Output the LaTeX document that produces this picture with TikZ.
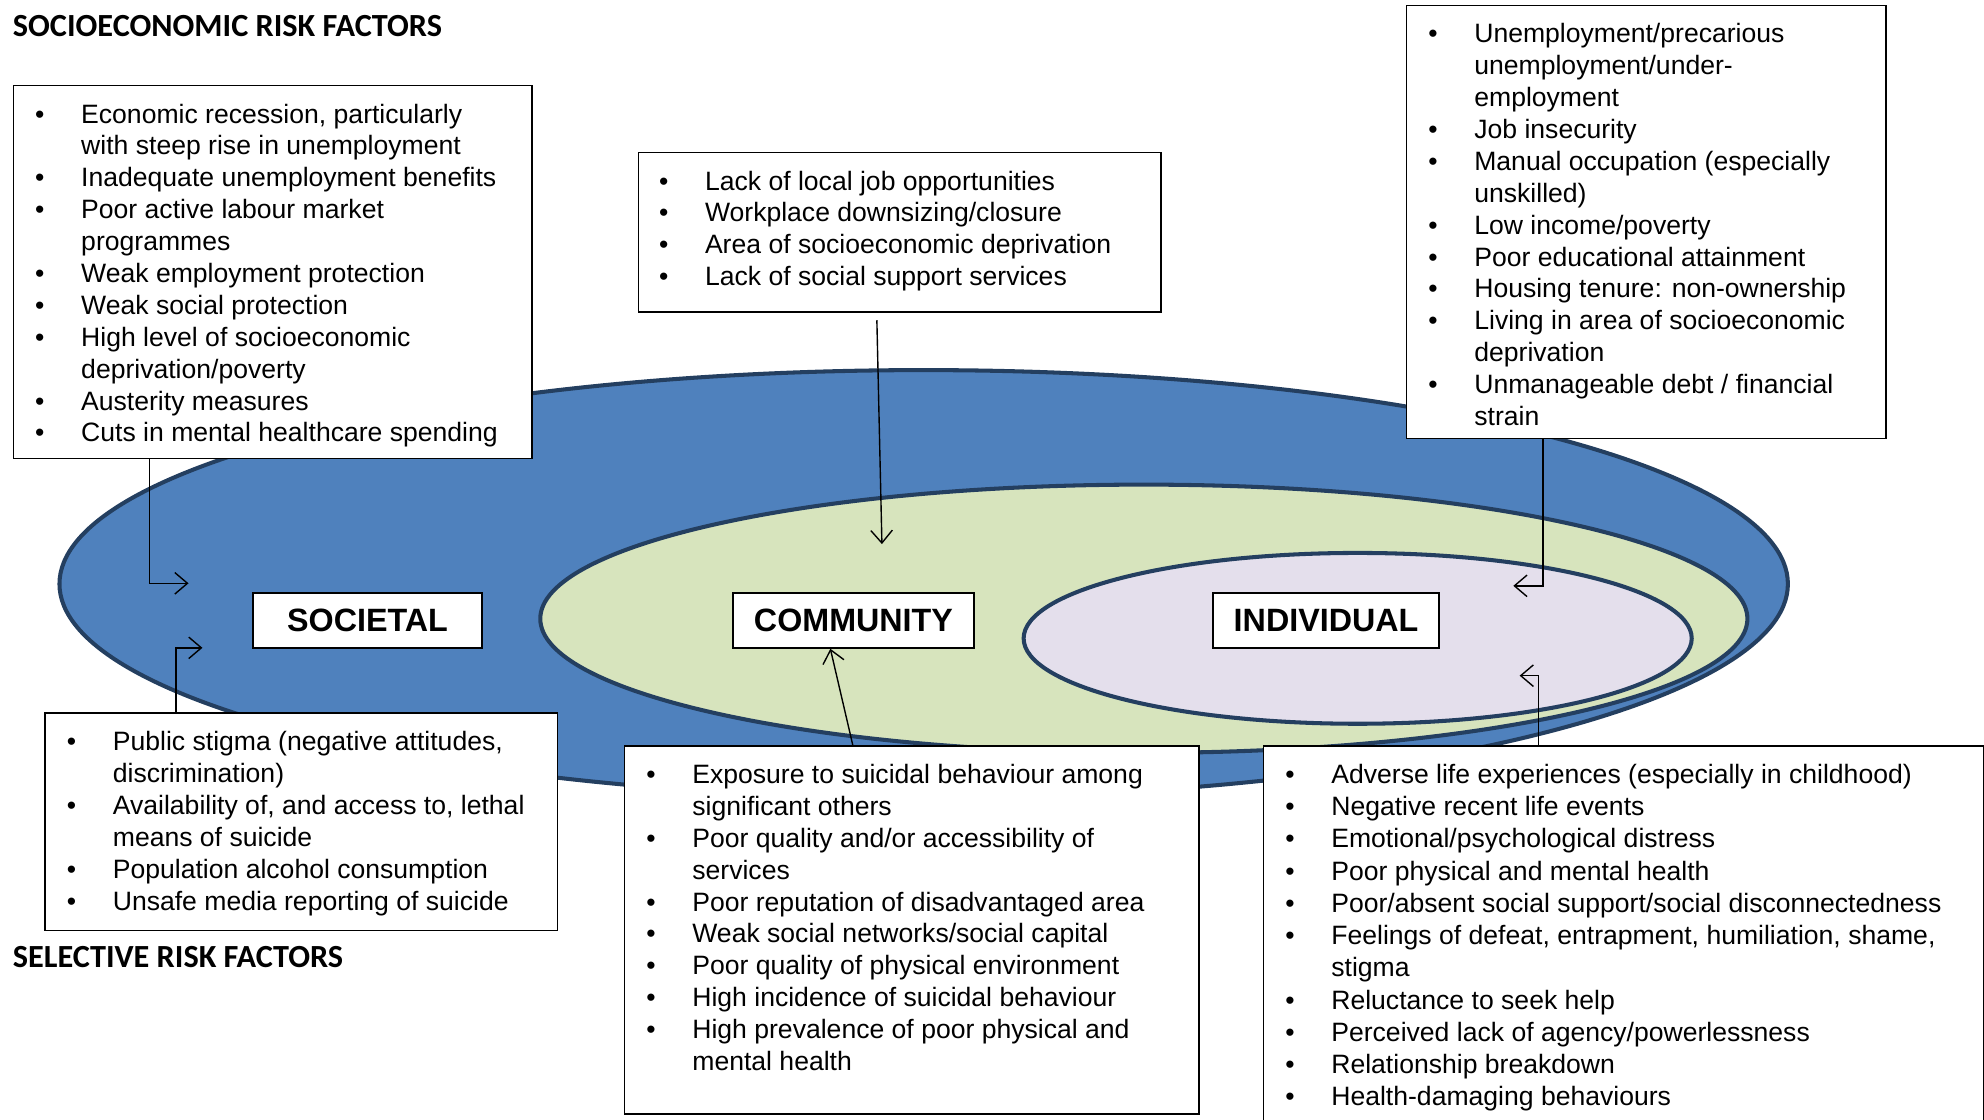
\documentclass[tikz,border=0pt]{standalone}
\usepackage{fontspec}
\setmainfont{Liberation Sans}
\newfontfamily\headfont{Carlito}
\usetikzlibrary{arrows.meta,calc}

\definecolor{outerblue}{HTML}{4F81BD}
\definecolor{ringline}{HTML}{243F60}
\definecolor{midgreen}{HTML}{D7E4BD}
\definecolor{innerlav}{HTML}{E4DFEC}

\newcommand\bul{\llap{•\hspace{29pt}}}

\tikzset{
  ring/.style={draw=ringline, line width=3.2pt},
  box/.style={draw=black, fill=white, line width=1.1pt, inner sep=0pt, anchor=north west},
  lbl/.style={draw=black, fill=white, line width=1.5pt, inner sep=0pt, minimum height=43pt,
    font=\fontsize{25.5}{29}\selectfont\bfseries},
  lst/.style={align=left, inner sep=0pt, anchor=north west, font=\fontsize{21}{25.2}\selectfont},
  head/.style={anchor=west, inner sep=0pt, font=\headfont\bfseries\fontsize{25.5}{29}\selectfont},
  arr/.style={line width=1.1pt, -{Straight Barb[length=10pt,width=17pt,line width=1.1pt]}}
}

\begin{document}
\begin{tikzpicture}[x=1pt,y=-1pt]
\useasboundingbox (0,0) rectangle (1568,885);

% rings
\draw[ring, fill=outerblue] (730,461.5) ellipse [x radius=683pt, y radius=169pt];
\draw[ring, fill=midgreen] (904,489) ellipse [x radius=477pt, y radius=106pt];
\draw[ring, fill=innerlav] (1073,504.5) ellipse [x radius=264pt, y radius=67.5pt];

% headings
\node[head] (h1) at (10,20.5) {SOCIOECONOMIC RISK FACTORS};
\node[head] (h2) at (10,756.5) {SELECTIVE RISK FACTORS};

% level labels
\node[lbl, minimum width=181pt] (soc) at (290.5,490.5) {SOCIETAL};
\node[lbl, minimum width=191pt] (com) at (674.5,490.5) {COMMUNITY};
\node[lbl, minimum width=178pt] (ind) at (1048,490.5) {INDIVIDUAL};

% boxes
\node[box, minimum width=410pt, minimum height=295pt] (se) at (10,67) {};
\node[box, minimum width=413pt, minimum height=126pt] (ct) at (504,120) {};
\node[box, minimum width=379pt, minimum height=342pt] (it) at (1111,4) {};
\node[box, minimum width=405pt, minimum height=172pt] (sb) at (35,563) {};
\node[box, minimum width=454pt, minimum height=291pt] (cb) at (493,589) {};
\node[box, minimum width=569pt, minimum height=330pt] (ib) at (998,589) {};

% lists
\node[lst] (se-t) at (64,79.4) {\strut\bul Economic recession, particularly\\
with steep rise in unemployment\\
\bul Inadequate unemployment benefits\\
\bul Poor active labour market\\
programmes\\
\bul Weak employment protection\\
\bul Weak social protection\\
\bul High level of socioeconomic\\
deprivation/poverty\\
\bul Austerity measures\\
\bul Cuts in mental healthcare spending};

\node[lst] (ct-t) at (557,132.4) {\strut\bul Lack of local job opportunities\\
\bul Workplace downsizing/closure\\
\bul Area of socioeconomic deprivation\\
\bul Lack of social support services};

\node[lst] (it-t) at (1165,16) {\strut\bul Unemployment/precarious\\
unemployment/under-\\
employment\\
\bul Job insecurity\\
\bul Manual occupation (especially\\
unskilled)\\
\bul Low income/poverty\\
\bul Poor educational attainment\\
\bul Housing tenure: non-ownership\\
\bul Living in area of socioeconomic\\
deprivation\\
\bul Unmanageable debt / financial\\
strain};

\node[lst] (sb-t) at (89,575.4) {\strut\bul Public stigma (negative attitudes,\\
discrimination)\\
\bul Availability of, and access to, lethal\\
means of suicide\\
\bul Population alcohol consumption\\
\bul Unsafe media reporting of suicide};

\node[lst] (cb-t) at (547,601.4) {\strut\bul Exposure to suicidal behaviour among\\
significant others\\
\bul Poor quality and/or accessibility of\\
services\\
\bul Poor reputation of disadvantaged area\\
\bul Weak social networks/social capital\\
\bul Poor quality of physical environment\\
\bul High incidence of suicidal behaviour\\
\bul High prevalence of poor physical and\\
mental health};

\node[lst, font=\fontsize{21}{25.5}\selectfont] (ib-t) at (1052,601) {\strut\bul Adverse life experiences (especially in childhood)\\
\bul Negative recent life events\\
\bul Emotional/psychological distress\\
\bul Poor physical and mental health\\
\bul Poor/absent social support/social disconnectedness\\
\bul Feelings of defeat, entrapment, humiliation, shame,\\
stigma\\
\bul Reluctance to seek help\\
\bul Perceived lack of agency/powerlessness\\
\bul Relationship breakdown\\
\bul Health-damaging behaviours};

% connectors
\coordinate (t1) at (149,461);
\coordinate (t2) at (160,512);
\coordinate (t3) at (697,430);
\coordinate (t5) at (1196,463);
\coordinate (t6) at (1201,534);

\draw[arr] ([xshift=108pt]se.south west) |- (t1);
\draw[arr] ([xshift=104pt]sb.north west) |- (t2);
\draw[arr] ([xshift=189pt,yshift=-6pt]ct.south west) -- (t3);
\draw[arr] ([xshift=181pt]cb.north west) -- ([xshift=78pt]com.south west);
\draw[arr] ([xshift=108.5pt]it.south west) |- (t5);
\draw[arr] ([xshift=218pt]ib.north west) |- (t6);
\end{tikzpicture}
\end{document}
